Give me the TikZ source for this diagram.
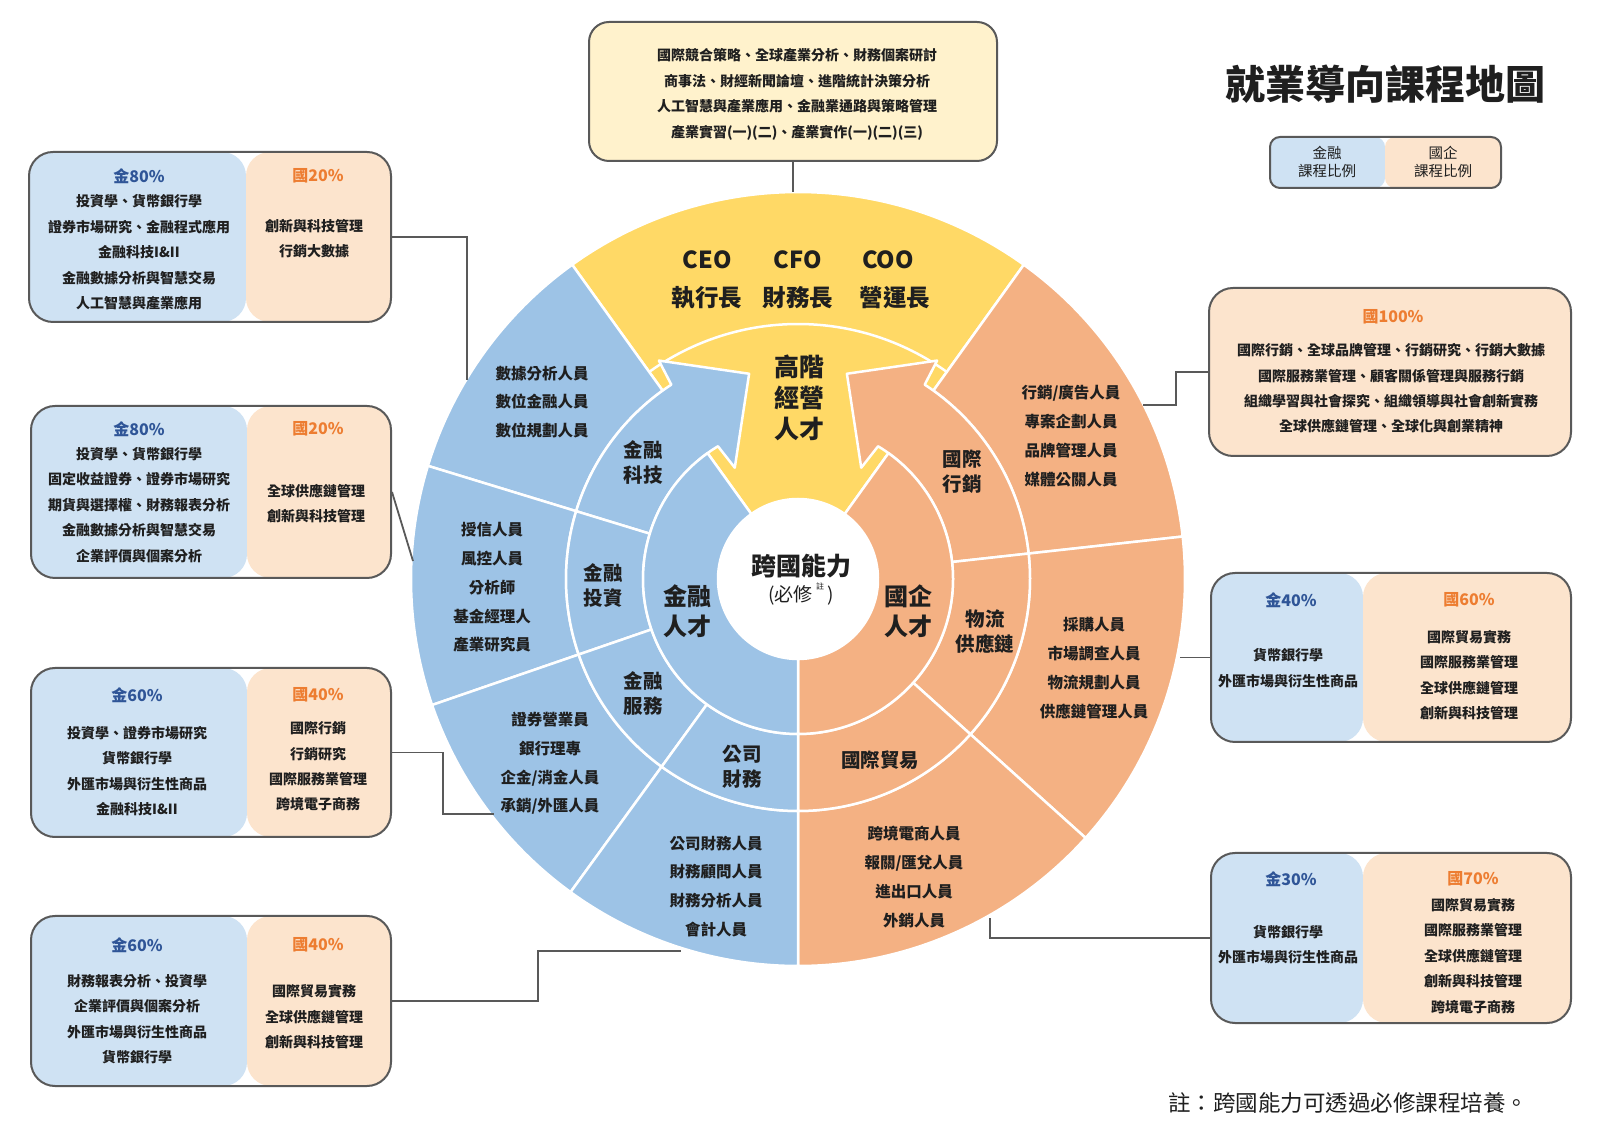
\documentclass[tikz,border=0pt]{standalone}
\usepackage{fontspec}
\setmainfont{Noto Sans CJK TC}
\usetikzlibrary{calc}

\definecolor{cB}{HTML}{9DC3E6}
\definecolor{cO}{HTML}{F4B183}
\definecolor{cY}{HTML}{FFD966}
\definecolor{bxB}{HTML}{CFE2F3}
\definecolor{bxO}{HTML}{FCE4CD}
\definecolor{bxY}{HTML}{FFF2CC}
\definecolor{bxL}{HTML}{595959}
\definecolor{hdB}{HTML}{2F5597}
\definecolor{hdO}{HTML}{ED7D31}
\definecolor{txt}{HTML}{1F1F1F}

\newcommand{\annsec}[4]{(#1:#3) -- (#1:#4) arc[start angle=#1,end angle=#2,radius=#4pt] -- (#2:#3) arc[start angle=#2,end angle=#1,radius=#3pt] -- cycle}
\newcommand{\fsz}[2]{\fontsize{#1}{#2}\selectfont}

\begin{document}
\begin{tikzpicture}[x=1pt,y=1pt,
  cell/.style={draw=white,line width=2.5pt,line join=round},
  ttl/.style={font=\bfseries\fsz{23.5}{28}, text=txt},
  lbl1/.style={font=\bfseries\fsz{24}{30}, align=center, text=txt},
  lbl2/.style={font=\bfseries\fsz{19.5}{25}, align=center, text=txt},
  lbl3/.style={font=\bfseries\fsz{15.5}{28.8}, align=center, text=txt},
  bt/.style={font=\bfseries\fsz{14}{25.4}, align=center, text=txt},
  hB/.style={font=\bfseries\fsz{16}{18}, text=hdB},
  hO/.style={font=\bfseries\fsz{16}{18}, text=hdO},
  conn/.style={draw=bxL, line width=1.8pt},
  sbox/.style n args={3}{draw=bxL, line width=2pt, rounded corners=24pt,
    minimum width=#1pt, minimum height=#2pt, inner sep=0pt,
    path picture={
      \fill[bxB] (path picture bounding box.south west) rectangle ([xshift=#3pt]path picture bounding box.north west);
      \fill[bxO] ([xshift=#3pt]path picture bounding box.south west) rectangle (path picture bounding box.north east);}},
  obox/.style={draw=bxL, line width=2pt, rounded corners=24pt, fill=bxO, inner sep=0pt}
]
\useasboundingbox (0,0) rectangle (1600,1143);
\fill[white] (0,0) rectangle (1600,1143);

% ---------------- wheel ----------------
\begin{scope}[shift={(798,564)}]
  % yellow top sector
  \filldraw[cell,fill=cY] \annsec{54.3}{125.7}{80}{387};
  \draw[white,line width=2.5pt] (54.3:255) arc[start angle=54.3,end angle=125.7,radius=255pt];
  % orange outer ring
  \filldraw[cell,fill=cO] \annsec{6.3}{54.3}{232}{387};
  \filldraw[cell,fill=cO] \annsec{-42}{6.3}{232}{387};
  \filldraw[cell,fill=cO] \annsec{-90}{-42}{232}{387};
  % orange middle ring (with arrow)
  \filldraw[cell,fill=cO] (6.3:155) arc[start angle=6.3,end angle=58.9,radius=155pt]
     -- (60.4:128) -- (76.6:211) -- (57.5:259) -- (56.9:232)
     arc[start angle=56.9,end angle=6.3,radius=232pt] -- cycle;
  \filldraw[cell,fill=cO] \annsec{-42}{6.3}{155}{232};
  \filldraw[cell,fill=cO] \annsec{-90}{-42}{155}{232};
  % orange inner ring
  \filldraw[cell,fill=cO] \annsec{-90}{54.3}{80}{155};
  % blue outer ring
  \filldraw[cell,fill=cB] \annsec{125.7}{163}{232}{387};
  \filldraw[cell,fill=cB] \annsec{163}{199}{232}{387};
  \filldraw[cell,fill=cB] \annsec{199}{234}{232}{387};
  \filldraw[cell,fill=cB] \annsec{234}{270}{232}{387};
  % blue middle ring (with arrow)
  \filldraw[cell,fill=cB] (163:232) arc[start angle=163,end angle=123.1,radius=232pt]
     -- (122.5:259) -- (103.4:211) -- (119.6:128) -- (121.1:155)
     arc[start angle=121.1,end angle=163,radius=155pt] -- cycle;
  \filldraw[cell,fill=cB] \annsec{163}{199}{155}{232};
  \filldraw[cell,fill=cB] \annsec{199}{234}{155}{232};
  \filldraw[cell,fill=cB] \annsec{234}{270}{155}{232};
  % blue inner ring
  \filldraw[cell,fill=cB] \annsec{125.7}{270}{80}{155};
\end{scope}
\node[circle, fill=white, minimum size=160pt, inner sep=0pt] (core) at (798,564) {};

% wheel texts
\node[ttl] (ceo) at (707,883) {CEO};
\node[ttl] (cfo) at (798,883) {CFO};
\node[ttl] (coo) at (888,883) {COO};
\node[ttl] (ceoz) at (707,845) {執行長};
\node[ttl] (cfoz) at (798,845) {財務長};
\node[ttl] (cooz) at (895,845) {營運長};
\node[lbl1, font=\bfseries\fsz{25}{31}] (exec) at (799,745) {高階\\經營\\人才};
\node[lbl1, font=\bfseries\fsz{25}{30}] (core1) at (801,577) {跨國能力};
\node[font=\fsz{19}{20}, text=txt] (core2) at (801,549) {(必修\,\raisebox{0.6em}{\fsz{8}{8}註}\,)};
\node[lbl1] (fin) at (687,531.5) {金融\\人才};
\node[lbl1] (ibm) at (908,531.5) {國企\\人才};
\node[lbl2] (ft) at (643,680.5) {金融\\科技};
\node[lbl2] (fi) at (603,557) {金融\\投資};
\node[lbl2] (fs) at (643,449.5) {金融\\服務};
\node[lbl2] (cf) at (742,376.5) {公司\\財務};
\node[lbl2] (im) at (962,671.5) {國際\\行銷};
\node[lbl2] (lg) at (985,511.5) {物流\\供應鏈};
\node[lbl2] (it) at (880,383) {國際貿易};
\node[lbl3] (g1) at (542,741) {數據分析人員\\數位金融人員\\數位規劃人員};
\node[lbl3] (g2) at (492,555.5) {授信人員\\風控人員\\分析師\\基金經理人\\產業研究員};
\node[lbl3] (g3) at (550,379.5) {證券營業員\\銀行理專\\企金/消金人員\\承銷/外匯人員};
\node[lbl3] (g4) at (716,256.5) {公司財務人員\\財務顧問人員\\財務分析人員\\會計人員};
\node[lbl3] (g5) at (1071,707) {行銷/廣告人員\\專案企劃人員\\品牌管理人員\\媒體公關人員};
\node[lbl3] (g6) at (1094,475) {採購人員\\市場調查人員\\物流規劃人員\\供應鏈管理人員};
\node[lbl3] (g7) at (914,266) {跨境電商人員\\報關/匯兌人員\\進出口人員\\外銷人員};

% ---------------- boxes ----------------
\node[draw=bxL, line width=2pt, rounded corners=20pt, fill=bxY, minimum width=408pt, minimum height=139pt,
      align=center, font=\bfseries\fsz{14}{25.5}, text=txt] (top) at (793,1051.5)
  {};
\node[align=center, font=\bfseries\fsz{14}{25.5}, text=txt] (topt) at (797,1048.5)
  {國際競合策略、全球產業分析、財務個案研討\\商事法、財經新聞論壇、進階統計決策分析\\人工智慧與產業應用、金融業通路與策略管理\\產業實習(一)(二)、產業實作(一)(二)(三)};

\node[sbox={362}{170}{217}] (L1) at (210,906) {};
\node[sbox={360}{172}{216}] (L2) at (211,651) {};
\node[sbox={360}{169}{216}] (L3) at (211,390.5) {};
\node[sbox={360}{170}{216}] (L4) at (211,142) {};
\node[obox, minimum width=362pt, minimum height=168pt] (R1) at (1390,771) {};
\node[sbox={360}{169}{152}] (R2) at (1391,485.5) {};
\node[sbox={360}{170}{152}] (R3) at (1391,205) {};
\node[sbox={231}{51}{115}, rounded corners=10pt] (leg) at (1385.5,980.5) {};

% box texts
\node[hB] (L1h1) at (139,967) {金80\%};
\node[hO] (L1h2) at (318,967) {國20\%};
\node[bt] (L1a) at (139,890.5) {投資學、貨幣銀行學\\證券市場研究、金融程式應用\\金融科技I\&II\\金融數據分析與智慧交易\\人工智慧與產業應用};
\node[bt] (L1b) at (314,904.5) {創新與科技管理\\行銷大數據};

\node[hB] (L2h1) at (139,714) {金80\%};
\node[hO] (L2h2) at (318,714) {國20\%};
\node[bt] (L2a) at (139,638) {投資學、貨幣銀行學\\固定收益證券、證券市場研究\\期貨與選擇權、財務報表分析\\金融數據分析與智慧交易\\企業評價與個案分析};
\node[bt] (L2b) at (316,639.5) {全球供應鏈管理\\創新與科技管理};

\node[hB] (L3h1) at (137,448) {金60\%};
\node[hO] (L3h2) at (318,448) {國40\%};
\node[bt] (L3a) at (137,372) {投資學、證券市場研究\\貨幣銀行學\\外匯市場與衍生性商品\\金融科技I\&II};
\node[bt] (L3b) at (318,376.5) {國際行銷\\行銷研究\\國際服務業管理\\跨境電子商務};

\node[hB] (L4h1) at (137,198) {金60\%};
\node[hO] (L4h2) at (318,198) {國40\%};
\node[bt] (L4a) at (137,124) {財務報表分析、投資學\\企業評價與個案分析\\外匯市場與衍生性商品\\貨幣銀行學};
\node[bt] (L4b) at (314,126) {國際貿易實務\\全球供應鏈管理\\創新與科技管理};

\node[hO] (R1h) at (1393,826) {國100\%};
\node[bt] (R1a) at (1391,754.5) {國際行銷、全球品牌管理、行銷研究、行銷大數據\\國際服務業管理、顧客關係管理與服務行銷\\組織學習與社會探究、組織領導與社會創新實務\\全球供應鏈管理、全球化與創業精神};

\node[hB] (R2h1) at (1291,543) {金40\%};
\node[hO] (R2h2) at (1469,543) {國60\%};
\node[bt] (R2a) at (1288,475) {貨幣銀行學\\外匯市場與衍生性商品};
\node[bt] (R2b) at (1469,468) {國際貿易實務\\國際服務業管理\\全球供應鏈管理\\創新與科技管理};

\node[hB] (R3h1) at (1291,264) {金30\%};
\node[hO] (R3h2) at (1473,264) {國70\%};
\node[bt] (R3a) at (1288,198.5) {貨幣銀行學\\外匯市場與衍生性商品};
\node[bt] (R3b) at (1473,187) {國際貿易實務\\國際服務業管理\\全球供應鏈管理\\創新與科技管理\\跨境電子商務};

\node[align=center, font=\fsz{14.5}{18}, text=txt] (legB) at (1327,981) {金融\\課程比例};
\node[align=center, font=\fsz{14.5}{18}, text=txt] (legO) at (1443,981) {國企\\課程比例};

% title and note
\node[font=\bfseries\fsz{40}{44}, text=txt] (title) at (1385,1059) {就業導向課程地圖};
\node[font=\fsz{22.5}{24}, text=txt] (note) at (1348,40) {註：跨國能力可透過必修課程培養。};

% ---------------- connectors ----------------
\coordinate (c0) at (793,951);
\coordinate (c1) at (467,763);
\coordinate (c2) at (413,582);
\coordinate (c3) at (494,329);
\coordinate (c4) at (681,192);
\coordinate (c5) at (1143,738);
\coordinate (c6) at (1180,485.5);
\coordinate (c7) at (990,225);
\draw[conn] (top.south) -- (c0);
\draw[conn] (L1.east) -| (c1);
\draw[conn] (L2.east) -- (c2);
\draw[conn] (L3.east) -- ++(51,0) |- (c3);
\draw[conn] (L4.east) -- ++(146,0) |- (c4);
\draw[conn] (R1.west) -- ++(-32,0) |- (c5);
\draw[conn] (R2.west) -- (c6);
\draw[conn] (R3.west) -| (c7);
\end{tikzpicture}
\end{document}
